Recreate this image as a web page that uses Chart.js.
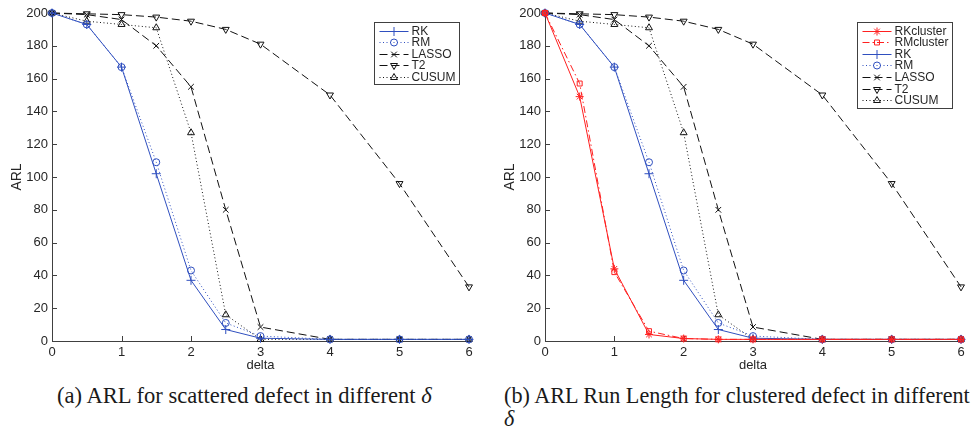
<!DOCTYPE html>
<html>
<head>
<meta charset="utf-8">
<script src="https://cdn.jsdelivr.net/npm/chart.js@4.4.1/dist/chart.umd.min.js"></script>
<style>
body { margin: 0; background: #fff; width: 974px; height: 430px; position: relative; overflow: hidden; }
canvas { position: absolute; top: 0; }
.caption { position: absolute; font-family: "Liberation Serif", "DejaVu Serif", serif; color: #1a1a1a; white-space: nowrap; line-height: 1; font-size: 20px; }
</style>
</head>
<body>
<canvas id="chartA" width="487" height="373" style="left:0"></canvas>
<canvas id="chartB" width="487" height="373" style="left:487px"></canvas>
<span class="caption" id="capA" style="left:57px; top:385px">(a) ARL for scattered defect in different <i>δ</i></span>
<span class="caption" id="capB1" style="left:504px; top:385px">(b) ARL Run Length for clustered defect in different</span>
<span class="caption" id="capB2" style="left:504px; top:408px"><i>δ</i></span>
<script>
// valeurs
const deltas = [0, 0.5, 1, 1.5, 2, 2.5, 3, 4, 5, 6];
const arlRKcluster = [200, 149, 44, 4, 1.5, 1, 1, 1, 1, 1];
const arlRMcluster = [200, 157, 42, 6, 1.5, 1, 1, 1, 1, 1];
const arlRK = [200, 193, 167, 102, 37, 7, 1.7, 1, 1, 1];
const arlRM = [200, 193, 167, 109, 43, 11, 3, 1, 1, 1];
const arlLASSO = [200, 199, 196, 180, 155, 80, 8.5, 1, 1, 1];
const arlT2 = [200, 199.5, 199, 197.5, 195, 190, 181, 150, 96, 33];
const arlCUSUM = [200, 195, 193, 191, 127, 16, 1, 1, 1, 1];

const textColor = '#262626';
const axisColor = '#404040';
Chart.defaults.font.family = '"Liberation Sans", Arial, sans-serif';

// style de chaque série (à la MATLAB)
const styles = {
    RKcluster: { color: '#ff2020', dash: [], point: 'star', radius: 4 },
    RMcluster: { color: '#ff2020', dash: [7, 3, 1.5, 3], point: 'rect', radius: 3.5 },
    RK: { color: '#2f4fbf', dash: [], point: 'cross', radius: 4.5 },
    RM: { color: '#2f4fbf', dash: [1, 2.5], point: 'circle', radius: 3.5 },
    LASSO: { color: '#111', dash: [8, 4], point: 'crossRot', radius: 4 },
    T2: { color: '#111', dash: [8, 4], point: 'triangle', radius: 4, rotation: 180 },
    CUSUM: { color: '#111', dash: [1, 2.5], point: 'triangle', radius: 4 }
};

function makeDataset(label, values) {
    const s = styles[label];
    return {
        label: label,
        data: deltas.map((x, i) => ({ x: x, y: values[i] })),
        borderColor: s.color,
        borderWidth: 1,
        borderDash: s.dash,
        pointStyle: s.point,
        pointRadius: s.radius,
        pointRotation: s.rotation || 0,
        pointBorderColor: s.color,
        pointBackgroundColor: 'rgba(0,0,0,0)',
        pointBorderWidth: 1,
        tension: 0,
        fill: false,
        clip: false
    };
}

// petites graduations vers l'intérieur
const inwardTicks = {
    id: 'inwardTicks',
    beforeDatasetsDraw(chart) {
        const ctx = chart.ctx, area = chart.chartArea;
        const xs = chart.scales.x, ys = chart.scales.y;
        ctx.save();
        ctx.strokeStyle = axisColor;
        ctx.lineWidth = 1;
        ctx.beginPath();
        ys.ticks.forEach(t => {
            const py = Math.round(ys.getPixelForValue(t.value)) + 0.5;
            ctx.moveTo(area.left, py);
            ctx.lineTo(area.left + 5, py);
        });
        xs.ticks.forEach(t => {
            const px = Math.round(xs.getPixelForValue(t.value)) + 0.5;
            ctx.moveTo(px, area.bottom);
            ctx.lineTo(px, area.bottom - 5);
        });
        ctx.stroke();
        ctx.restore();
    }
};

// légende encadrée avec trait + marqueur
const matlabLegend = {
    id: 'matlabLegend',
    afterDraw(chart, args, opts) {
        const ctx = chart.ctx, area = chart.chartArea;
        const sets = chart.data.datasets;
        ctx.save();
        ctx.font = '12px "Liberation Sans", Arial, sans-serif';
        const tw = Math.max(...sets.map(d => ctx.measureText(d.label).width));
        const padL = 5, sample = 29, gap = 3, padR = 4, row = 11.6, padV = 8;
        const w = Math.round(padL + sample + gap + tw + padR);
        const h = Math.round(padV * 2 + row * (sets.length - 1));
        const x0 = Math.round(area.right - opts.right - w) + 0.5;
        const y0 = Math.round(area.top + opts.top) + 0.5;
        ctx.fillStyle = '#fff';
        ctx.fillRect(x0, y0, w, h);
        ctx.strokeStyle = axisColor;
        ctx.lineWidth = 1;
        ctx.strokeRect(x0, y0, w, h);
        sets.forEach((d, i) => {
            const y = Math.round(y0 + padV + i * row) + 0.5;
            ctx.strokeStyle = d.borderColor;
            ctx.setLineDash(d.borderDash || []);
            ctx.beginPath();
            ctx.moveTo(x0 + padL, y);
            ctx.lineTo(x0 + padL + sample, y);
            ctx.stroke();
            ctx.setLineDash([]);
            ctx.fillStyle = 'rgba(0,0,0,0)';
            Chart.helpers.drawPoint(ctx, {
                pointStyle: d.pointStyle, radius: d.pointRadius,
                rotation: d.pointRotation || 0, borderWidth: 1
            }, x0 + padL + sample / 2, y);
            ctx.fillStyle = textColor;
            ctx.textBaseline = 'middle';
            ctx.textAlign = 'left';
            ctx.fillText(d.label, x0 + padL + sample + gap, y + 0.5);
        });
        ctx.restore();
    }
};

function makeChart(id, datasets, yWidth, titlePad, rightPad, legendRight) {
    return new Chart(document.getElementById(id), {
        type: 'line',
        data: { datasets: datasets },
        options: {
            responsive: false,
            animation: false,
            devicePixelRatio: 1,
            layout: { padding: { left: 0, top: 13, right: rightPad, bottom: 0 } },
            plugins: {
                legend: { display: false },
                tooltip: { enabled: false },
                matlabLegend: { right: legendRight, top: 9 }
            },
            scales: {
                x: {
                    type: 'linear', min: 0, max: 6,
                    ticks: { stepSize: 1, padding: 4, color: textColor, font: { size: 13 }, maxRotation: 0 },
                    grid: { display: false, drawTicks: false },
                    border: { display: true, color: axisColor },
                    title: { display: true, text: 'delta', color: textColor, font: { size: 13 }, padding: { top: 0, bottom: 0 } },
                    afterFit(s) { s.height = 32; s.paddingLeft = 0; s.paddingRight = 0; }
                },
                y: {
                    min: 0, max: 200,
                    ticks: { stepSize: 20, padding: 4, color: textColor, font: { size: 13 } },
                    grid: { display: false, drawTicks: false },
                    border: { display: true, color: axisColor },
                    title: { display: true, text: 'ARL', color: textColor, font: { size: 14 }, padding: { top: titlePad, bottom: 0 } },
                    afterFit(s) { s.width = yWidth; s.paddingTop = 0; s.paddingBottom = 0; }
                }
            }
        },
        plugins: [inwardTicks, matlabLegend]
    });
}

makeChart('chartA', [
    makeDataset('RK', arlRK),
    makeDataset('RM', arlRM),
    makeDataset('LASSO', arlLASSO),
    makeDataset('T2', arlT2),
    makeDataset('CUSUM', arlCUSUM)
], 52, 9, 18, 10);

makeChart('chartB', [
    makeDataset('RKcluster', arlRKcluster),
    makeDataset('RMcluster', arlRMcluster),
    makeDataset('RK', arlRK),
    makeDataset('RM', arlRM),
    makeDataset('LASSO', arlLASSO),
    makeDataset('T2', arlT2),
    makeDataset('CUSUM', arlCUSUM)
], 58, 14.6, 13, 9);

// ajuster la taille des légendes de figure à la largeur d'origine
function fitCaption(el, target) {
    const size = 20 * target / el.getBoundingClientRect().width;
    return size;
}
const capA = document.getElementById('capA');
const capB1 = document.getElementById('capB1');
const capB2 = document.getElementById('capB2');
const sizeA = fitCaption(capA, 375);
const sizeB = fitCaption(capB1, 466);
capA.style.fontSize = sizeA + 'px';
capB1.style.fontSize = sizeB + 'px';
capB2.style.fontSize = sizeB + 'px';
</script>
</body>
</html>
